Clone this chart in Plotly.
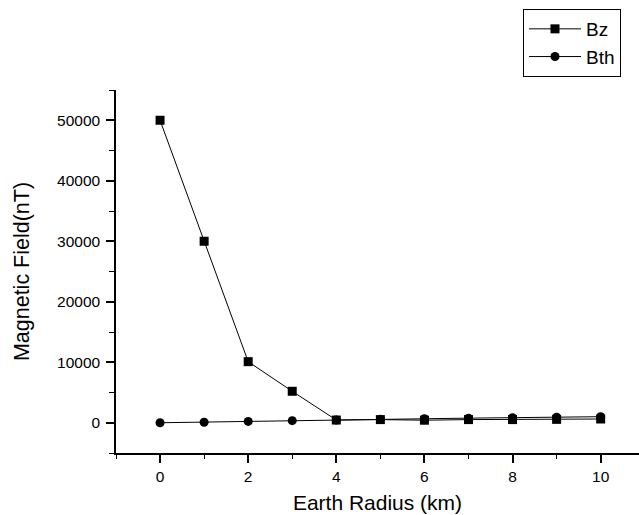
import plotly.graph_objects as go

radius = [0, 1, 2, 3, 4, 5, 6, 7, 8, 9, 10]
bz = [50000, 30000, 10100, 5200, 450, 520, 420, 520, 520, 560, 620]
bth = [0, 90, 220, 340, 450, 560, 660, 760, 830, 920, 1000]

FONT = "Liberation Sans, Arial, sans-serif"

fig = go.Figure()
fig.add_trace(go.Scatter(
    x=radius, y=bz, name="Bz", mode="lines+markers",
    line=dict(color="black", width=1),
    marker=dict(symbol="square", size=9, color="black"),
))
fig.add_trace(go.Scatter(
    x=radius, y=bth, name="Bth", mode="lines+markers",
    line=dict(color="black", width=1),
    marker=dict(symbol="circle", size=9, color="black"),
))

fig.update_layout(
    width=639, height=515,
    margin=dict(l=116, r=0, t=90, b=62, autoexpand=False),
    paper_bgcolor="white", plot_bgcolor="white",
    font=dict(family=FONT, color="black"),
    legend=dict(
        xref="container", yref="container",
        x=523 / 639, y=1 - 9 / 515, xanchor="left", yanchor="top",
        bordercolor="black", borderwidth=1, bgcolor="white",
        font=dict(size=19, color="black"), itemwidth=52,
    ),
    xaxis=dict(
        range=[-1, 10.87], tickmode="array",
        tickvals=[0, 2, 4, 6, 8, 10], ticktext=["0", "2", "4", "6", "8", "10"],
        showgrid=False, zeroline=False,
        showline=True, linecolor="black", linewidth=2,
        ticks="outside", ticklen=8, tickwidth=1.5, tickcolor="black",
        minor=dict(dtick=1, ticks="outside", ticklen=4, tickwidth=1, tickcolor="black"),
        tickfont=dict(size=15.5), automargin=False,
        title=dict(text="Earth Radius (km)", font=dict(size=21), standoff=12),
    ),
    yaxis=dict(
        range=[-5000, 55000], tickmode="array",
        tickvals=[0, 10000, 20000, 30000, 40000, 50000],
        ticktext=["0", "10000", "20000", "30000", "40000", "50000"],
        showgrid=False, zeroline=False,
        showline=True, linecolor="black", linewidth=1.5,
        ticks="outside", ticklen=8, tickwidth=1.5, tickcolor="black",
        minor=dict(dtick=5000, ticks="outside", ticklen=5, tickwidth=1, tickcolor="black"),
        tickfont=dict(size=15.5), ticklabelstandoff=3, automargin=False,
        title=dict(text="Magnetic Field(nT)", font=dict(size=21.5), standoff=22),
    ),
)

fig.write_html("out.html", config={"displayModeBar": False},
               post_script="document.body.style.margin='0';")
